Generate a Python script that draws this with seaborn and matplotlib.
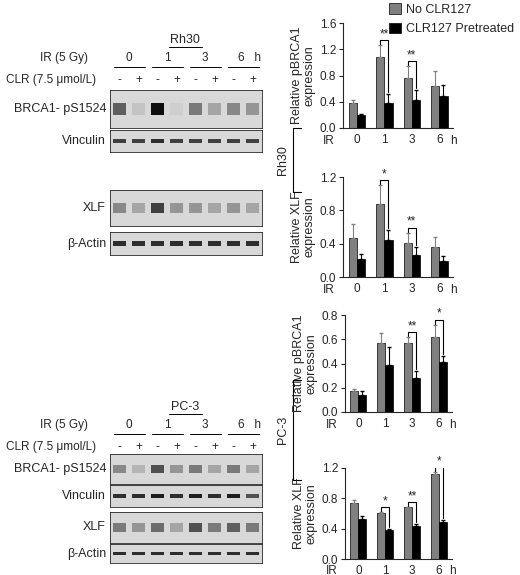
import numpy as np
import pandas as pd
import matplotlib
matplotlib.use("Agg")
import matplotlib.pyplot as plt
import seaborn as sns

sns.set_style("ticks")
plt.rcParams['font.family'] = ['Liberation Sans', 'DejaVu Sans']

# dane wykresow slupkowych
times = ["0", "1", "3", "6"]
groups = ["No CLR127", "CLR127 Pretreated"]

rh30_brca_no = [0.38, 1.08, 0.76, 0.64]
rh30_brca_no_err = [0.05, 0.18, 0.18, 0.23]
rh30_brca_pre = [0.20, 0.38, 0.42, 0.49]
rh30_brca_pre_err = [0.02, 0.14, 0.16, 0.16]
rh30_brca_sig = [(1, "**"), (2, "**")]

rh30_xlf_no = [0.47, 0.88, 0.41, 0.36]
rh30_xlf_no_err = [0.17, 0.22, 0.12, 0.12]
rh30_xlf_pre = [0.22, 0.44, 0.27, 0.19]
rh30_xlf_pre_err = [0.06, 0.13, 0.09, 0.06]
rh30_xlf_sig = [(1, "*"), (2, "**")]

pc3_brca_no = [0.17, 0.57, 0.57, 0.62]
pc3_brca_no_err = [0.02, 0.08, 0.05, 0.10]
pc3_brca_pre = [0.14, 0.39, 0.28, 0.41]
pc3_brca_pre_err = [0.03, 0.15, 0.06, 0.05]
pc3_brca_sig = [(2, "**"), (3, "*")]

pc3_xlf_no = [0.74, 0.61, 0.68, 1.12]
pc3_xlf_no_err = [0.04, 0.01, 0.01, 0.03]
pc3_xlf_pre = [0.53, 0.38, 0.44, 0.49]
pc3_xlf_pre_err = [0.04, 0.02, 0.02, 0.03]
pc3_xlf_sig = [(1, "*"), (2, "**"), (3, "*")]

# intensywnosc prazkow (8 sciezek)
rh30_blot_brca = [0.70, 0.35, 0.95, 0.30, 0.60, 0.45, 0.55, 0.50]
rh30_blot_vinc = [0.80, 0.80, 0.85, 0.80, 0.80, 0.80, 0.80, 0.80]
rh30_blot_xlf = [0.55, 0.45, 0.80, 0.50, 0.50, 0.45, 0.50, 0.45]
rh30_blot_actin = [0.85, 0.85, 0.85, 0.85, 0.85, 0.85, 0.85, 0.85]
pc3_blot_brca = [0.55, 0.40, 0.75, 0.50, 0.60, 0.45, 0.60, 0.45]
pc3_blot_vinc = [0.85, 0.85, 0.90, 0.85, 0.90, 0.85, 0.90, 0.75]
pc3_blot_xlf = [0.60, 0.50, 0.65, 0.45, 0.75, 0.60, 0.70, 0.60]
pc3_blot_actin = [0.85, 0.85, 0.85, 0.85, 0.85, 0.85, 0.85, 0.85]

FS = 8.5
W, H = 520, 575
fig = plt.figure(figsize=(5.2, 5.75), dpi=100)
ov = fig.add_axes([0, 0, 1, 1])
ov.set_xlim(0, W)
ov.set_ylim(H, 0)
ov.axis("off")

colors = {"No CLR127": "#808080", "CLR127 Pretreated": "black"}


def px(x0, y0, x1, y1):
    return [x0 / W, 1 - y1 / H, (x1 - x0) / W, (y1 - y0) / H]


def bar_panel(rect, no, no_err, pre, pre_err, sig, ymax, step, ylabel, legend=False):
    ax = fig.add_axes(rect)
    df = pd.DataFrame({
        "time": times * 2,
        "group": [groups[0]] * 4 + [groups[1]] * 4,
        "value": no + pre,
    })
    sns.barplot(data=df, x="time", y="value", hue="group", palette=colors,
                edgecolor="black", linewidth=0.5, width=0.6, ax=ax, legend=legend)
    centers = []
    for cont, err, col in zip(ax.containers, [no_err, pre_err], ["#808080", "black"]):
        xs = [b.get_x() + b.get_width() / 2 for b in cont]
        ys = [b.get_height() for b in cont]
        centers.append((xs, ys, err))
        ax.errorbar(xs, ys, yerr=[np.zeros(4), err], fmt="none", ecolor=col,
                    elinewidth=0.8, capsize=1.5)
    for g, stars in sig:
        x0, y0 = centers[0][0][g], centers[0][1][g] + centers[0][2][g]
        x1, y1 = centers[1][0][g], centers[1][1][g] + centers[1][2][g]
        top = y0 + 0.05 * ymax
        ax.plot([x0, x0, x1, x1], [y0 + 0.01 * ymax, top, top, y1 + 0.02 * ymax],
                color="black", lw=0.8)
        ax.text((x0 + x1) / 2, top, stars, ha="center", va="bottom", fontsize=FS)
    ax.set_ylim(0, ymax)
    ticks = np.arange(0, ymax + 1e-9, step)
    ax.set_yticks(ticks)
    ax.set_yticklabels([f"{v:.1f}" for v in ticks], fontsize=FS)
    ax.set_xlim(-0.5, 3.5)
    ax.tick_params(axis="x", length=0, labelsize=FS, pad=4)
    ax.tick_params(axis="y", length=3, pad=2)
    ax.set_xlabel("")
    ax.set_ylabel(ylabel, fontsize=FS + 0.5, linespacing=1.0, labelpad=3)
    ax.text(-1.0, -0.07, "IR", transform=ax.get_xaxis_transform(), ha="center",
            va="top", fontsize=FS)
    ax.text(3.5, -0.07, "h", transform=ax.get_xaxis_transform(), ha="center",
            va="top", fontsize=FS)
    sns.despine(ax=ax)
    if legend:
        ax.legend(loc="upper right", bbox_to_anchor=(1.0, 1.005),
                  bbox_transform=fig.transFigure, frameon=False, fontsize=FS + 0.5,
                  handlelength=0.9, handleheight=0.9, handletextpad=0.4,
                  labelspacing=0.55, borderaxespad=0.1)
    return ax


bar_panel(px(343, 23, 453, 128), rh30_brca_no, rh30_brca_no_err, rh30_brca_pre,
          rh30_brca_pre_err, rh30_brca_sig, 1.6, 0.4,
          "Relative pBRCA1\nexpression", legend=True)
bar_panel(px(343, 177, 453, 277), rh30_xlf_no, rh30_xlf_no_err, rh30_xlf_pre,
          rh30_xlf_pre_err, rh30_xlf_sig, 1.2, 0.4, "Relative XLF\nexpression")
bar_panel(px(345, 315, 452, 412), pc3_brca_no, pc3_brca_no_err, pc3_brca_pre,
          pc3_brca_pre_err, pc3_brca_sig, 0.8, 0.2, "Relative pBRCA1\nexpression")
bar_panel(px(345, 468, 452, 559), pc3_xlf_no, pc3_xlf_no_err, pc3_xlf_pre,
          pc3_xlf_pre_err, pc3_xlf_sig, 1.2, 0.4, "Relative XLF\nexpression")

BX0, BX1 = 110, 262
LANE = (BX1 - BX0) / 8


def blot(y0, y1, vals, label):
    ax = fig.add_axes(px(BX0, y0, BX1, y1))
    sns.heatmap(np.array([vals]), cmap="Greys", vmin=0, vmax=1, cbar=False,
                linewidths=3, linecolor="#d8d8d8", ax=ax)
    ax.set_facecolor("#d8d8d8")
    ax.set_ylim(1.6, -0.6)
    ax.set_xticks([])
    ax.set_yticks([])
    for s in ax.spines.values():
        s.set_visible(True)
        s.set_linewidth(0.6)
    ov.text(BX0 - 4, (y0 + y1) / 2, label, ha="right", va="center", fontsize=FS + 0.5)


def header(y, name):
    lane_x = [BX0 + LANE * (i + 0.5) for i in range(8)]
    ov.text(185, y, name, ha="center", va="center", fontsize=FS + 0.5)
    ov.plot([169, 202], [y + 7, y + 7], color="black", lw=0.7)
    ov.text(88, y + 18, "IR (5 Gy)", ha="right", va="center", fontsize=FS)
    for i, t in enumerate(times):
        xc = (lane_x[2 * i] + lane_x[2 * i + 1]) / 2
        lab = t + "   h" if t == "6" else t
        ov.text(xc + (6 if t == "6" else 0), y + 18, lab, ha="center", va="center",
                fontsize=FS)
        ov.plot([lane_x[2 * i] - 6, lane_x[2 * i + 1] + 6], [y + 27, y + 27],
                color="black", lw=0.7)
    ov.text(96, y + 40, "CLR (7.5 μmol/L)", ha="right", va="center", fontsize=FS)
    for i, xx in enumerate(lane_x):
        ov.text(xx, y + 40, "-" if i % 2 == 0 else "+", ha="center", va="center",
                fontsize=FS)


header(40, "Rh30")
blot(90, 128, rh30_blot_brca, "BRCA1- pS1524")
blot(130, 152, rh30_blot_vinc, "Vinculin")
blot(190, 226, rh30_blot_xlf, "XLF")
blot(232, 255, rh30_blot_actin, "β-Actin")

header(407, "PC-3")
blot(454, 484, pc3_blot_brca, "BRCA1- pS1524")
blot(485, 507, pc3_blot_vinc, "Vinculin")
blot(512, 543, pc3_blot_xlf, "XLF")
blot(544, 563, pc3_blot_actin, "β-Actin")

# nawiasy linii komorkowych
for y0, y1, name in [(128, 192, "Rh30"), (380, 480, "PC-3")]:
    ov.plot([301, 293, 293, 301], [y0, y0, y1, y1], color="black", lw=0.8)
    ov.text(283, (y0 + y1) / 2, name, rotation=90, ha="center", va="center",
            fontsize=FS + 0.5)

fig.savefig("out.png", dpi=100)
